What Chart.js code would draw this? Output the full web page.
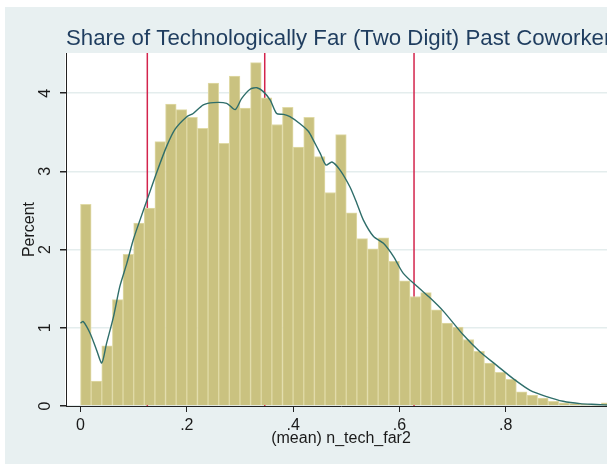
<!DOCTYPE html>
<html>
<head>
<meta charset="utf-8">
<script src="https://cdn.jsdelivr.net/npm/chart.js@4/dist/chart.umd.min.js"></script>
<style>
  html, body { margin: 0; padding: 0; background: #ffffff; overflow: hidden; }
  #back { position: absolute; left: 5px; top: 7px; width: 602px; height: 457px; background: #e8f0f1; }
  #chart { position: absolute; left: 0; top: 0; }
</style>
</head>
<body>
<div id="back"></div>
<canvas id="chart" width="620" height="464"></canvas>
<script>
'use strict';

/* Data */

var titleText = 'Share of Technologically Far (Two Digit) Past Coworkers';
var xTitle = '(mean) n_tech_far2';
var yTitle = 'Percent';

var binWidth = 0.02;
var binPercent = [
  2.58, 0.32, 0.77, 1.36, 1.94, 2.34, 2.53, 3.38, 3.86, 3.79,
  3.69, 3.55, 4.13, 3.36, 4.22, 3.81, 4.39, 3.94, 3.60, 3.82,
  3.31, 3.69, 3.19, 2.73, 3.47, 2.47, 2.14, 2.01, 2.15, 1.85,
  1.60, 1.40, 1.45, 1.23, 1.06, 1.01, 0.85, 0.70, 0.55, 0.43,
  0.34, 0.18, 0.14, 0.10, 0.06, 0.04, 0.03, 0.02, 0.01, 0.04
];

// kernel density, already on the percent scale
var densX = [
  0.0, 0.005, 0.018, 0.030, 0.040, 0.049, 0.062, 0.074, 0.087, 0.099,
  0.112, 0.125, 0.143, 0.162, 0.178, 0.200, 0.212, 0.231, 0.250, 0.275,
  0.291, 0.303, 0.319, 0.332, 0.344, 0.357, 0.369, 0.382, 0.394, 0.413,
  0.429, 0.438, 0.451, 0.462, 0.473, 0.488, 0.507, 0.520, 0.532, 0.551,
  0.570, 0.589, 0.607, 0.633, 0.658, 0.683, 0.720, 0.752, 0.783, 0.814,
  0.846, 0.877, 0.908, 0.940, 0.971, 1.0
];
var densY = [
  1.06, 1.08, 0.93, 0.72, 0.55, 0.80, 1.14, 1.53, 1.82, 2.12,
  2.38, 2.63, 2.98, 3.32, 3.54, 3.70, 3.74, 3.85, 3.88, 3.87,
  3.79, 3.93, 4.05, 4.07, 4.02, 3.91, 3.74, 3.73, 3.70, 3.61,
  3.51, 3.40, 3.23, 3.08, 3.12, 3.02, 2.80, 2.59, 2.38, 2.17,
  2.08, 1.91, 1.70, 1.53, 1.38, 1.21, 0.91, 0.69, 0.52, 0.35,
  0.20, 0.12, 0.06, 0.03, 0.02, 0.01
];

var vLines = [0.1257, 0.3466, 0.6275];

var xTicks = [0, 0.2, 0.4, 0.6, 0.8];
var yTicks = [0, 1, 2, 3, 4];
var xMin = -0.0273, xMax = 1.0075;
var yMin = 0, yMax = 4.514;

/* Build datasets */

var font = "'Liberation Sans', Arial, sans-serif";

var barData = binPercent.map(function(v, i) {
  return { x: binWidth * (i + 0.5), y: v };
});

var densData = densX.map(function(x, i) {
  return { x: x, y: densY[i] };
});

var lineSets = vLines.map(function(v) {
  return {
    type: 'line',
    data: [{ x: v, y: yMin }, { x: v, y: yMax }],
    borderColor: '#d3244c',
    borderWidth: 1.5,
    pointRadius: 0,
    order: 2
  };
});

// white plot region behind the marks
var fillArea = {
  id: 'fillArea',
  beforeDraw: function(chart) {
    var a = chart.chartArea;
    var ctx = chart.ctx;
    ctx.save();
    ctx.fillStyle = '#ffffff';
    ctx.fillRect(a.left - 1, a.top, a.right - a.left + 1, a.bottom - a.top);
    ctx.restore();
  }
};

// title left aligned on the plot region, allowed to run past the edge
var leftTitle = {
  id: 'leftTitle',
  afterDraw: function(chart) {
    var ctx = chart.ctx;
    ctx.save();
    ctx.fillStyle = '#1f3d5f';
    ctx.font = '22.25px ' + font;
    ctx.textAlign = 'left';
    ctx.textBaseline = 'alphabetic';
    ctx.fillText(titleText, chart.chartArea.left, 45);
    ctx.restore();
  }
};

function stataLabel(v) {
  if (v === 0) return '0';
  return String(v).replace(/^0/, '');
}

var ctx = document.getElementById('chart').getContext('2d');
var myChart = new Chart(ctx, {
  type: 'bar',
  data: {
    datasets: [{
      type: 'line',
      data: densData,
      borderColor: '#2f6e6a',
      borderWidth: 1.4,
      pointRadius: 0,
      tension: 0.25,
      order: 0
    }, {
      type: 'bar',
      data: barData,
      backgroundColor: '#cac280',
      borderColor: '#e0daa6',
      borderWidth: 1,
      barPercentage: 1,
      categoryPercentage: 1,
      order: 1
    }].concat(lineSets)
  },
  options: {
    responsive: false,
    devicePixelRatio: 1,
    animation: false,
    layout: { padding: { left: 0, right: 4, top: 53, bottom: 0 } },
    plugins: {
      legend: { display: false },
      tooltip: { enabled: false },
      title: { display: false }
    },
    scales: {
      x: {
        type: 'linear',
        min: xMin,
        max: xMax,
        offset: false,
        afterBuildTicks: function(scale) {
          scale.ticks = xTicks.map(function(v) { return { value: v }; });
        },
        afterFit: function(scale) { scale.height = 58; },
        grid: {
          display: true,
          offset: false,
          drawOnChartArea: false,
          drawTicks: true,
          tickLength: 6,
          color: '#222222'
        },
        border: { display: true, color: '#222222', width: 1 },
        ticks: {
          padding: 4.4,
          maxRotation: 0,
          color: '#1a1a1a',
          font: { family: font, size: 16 },
          callback: function(v) { return stataLabel(v); }
        },
        title: {
          display: true,
          text: xTitle,
          color: '#1a1a1a',
          font: { family: font, size: 16 },
          padding: { top: 0, bottom: 15.4 }
        }
      },
      y: {
        min: yMin,
        max: yMax,
        afterBuildTicks: function(scale) {
          scale.ticks = yTicks.map(function(v) { return { value: v }; });
        },
        afterFit: function(scale) { scale.width = 66; },
        grid: {
          color: '#e4eded',
          lineWidth: 1.5,
          tickColor: '#222222',
          tickLength: 6
        },
        border: { display: true, color: '#222222', width: 1 },
        ticks: {
          minRotation: 90,
          maxRotation: 90,
          crossAlign: 'center',
          padding: 10,
          color: '#1a1a1a',
          font: { family: font, size: 16 },
          callback: function(v) { return stataLabel(v); }
        },
        title: {
          display: true,
          text: yTitle,
          color: '#1a1a1a',
          font: { family: font, size: 16 },
          padding: { top: 20.4, bottom: 0 }
        }
      }
    }
  },
  plugins: [fillArea, leftTitle]
});
</script>
</body>
</html>
